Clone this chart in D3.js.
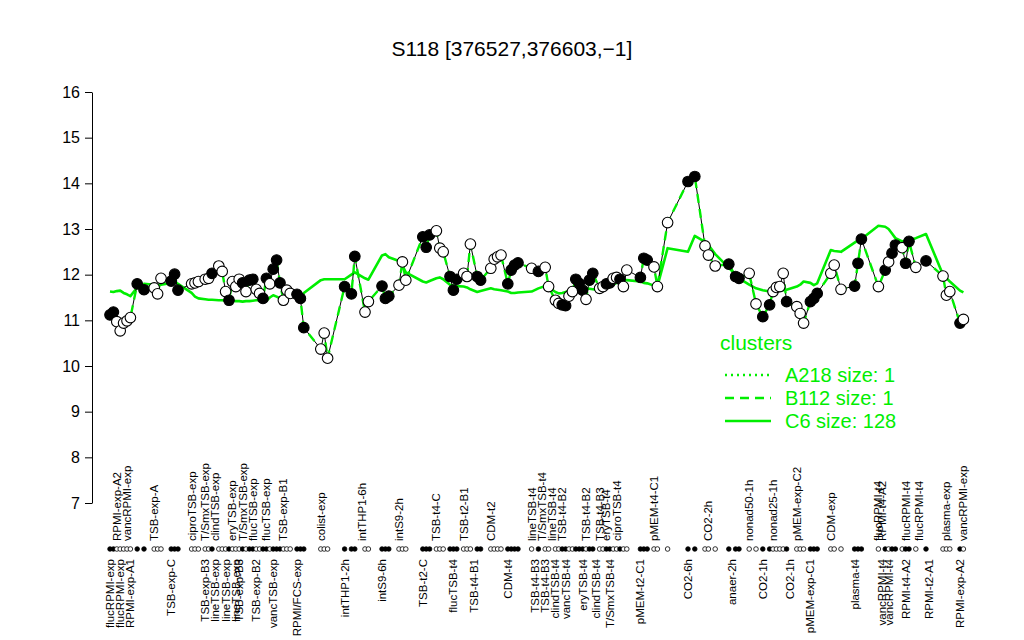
<!DOCTYPE html>
<html><head><meta charset="utf-8">
<script src="https://cdn.jsdelivr.net/npm/d3@7"></script>
<style>body{margin:0;background:#fff} text{font-family:"Liberation Sans",Arial,Helvetica,sans-serif}</style>
</head><body><svg id="c" width="1024" height="640"></svg>
<script>
// sample slot (order position along x), expression, fill (1 = black), C6 cluster mean
const slots = [0,1,2,3,4,5,6,8,10,13,14,15,18,19,20,24,25,26,28,29,30,32,33,34,35,36,37,38,39,40,41,42,43,44,45,46,47,48,49,50,51,52,53,55,56,57,62,63,64,69,71,72,75,76,80,81,82,85,86,87,92,93,94,96,97,98,100,101,102,104,105,106,108,109,112,113,114,115,117,118,119,120,124,126,128,129,131,132,133,134,135,136,137,138,139,140,141,142,144,145,146,147,148,149,150,151,152,156,157,158,160,161,164,170,172,175,176,178,182,184,185,188,190,192,194,195,196,197,198,199,202,203,204,206,207,208,212,213,215,219,220,221,226,228,229,230,231,233,234,235,237,240,245,246,247,250,251];
const expr = [11.12,11.18,10.97,10.77,10.94,10.99,11.06,11.80,11.67,11.71,11.58,11.92,11.86,12.01,11.66,11.80,11.82,11.85,11.90,11.92,12.03,12.19,12.07,11.63,11.44,11.85,11.74,11.90,11.82,11.63,11.88,11.90,11.68,11.59,11.48,11.92,11.80,12.12,12.32,11.82,11.44,11.66,11.59,11.57,11.48,10.84,10.37,10.72,10.17,11.74,11.58,12.40,11.18,11.41,11.75,11.48,11.53,11.77,12.28,11.88,12.83,12.60,12.87,12.96,12.58,12.50,11.96,11.66,11.90,12.03,11.96,12.67,11.96,11.88,12.14,12.34,12.39,12.43,11.80,12.10,12.21,12.26,12.14,12.07,12.16,11.74,11.44,11.37,11.34,11.32,11.53,11.63,11.90,11.81,11.66,11.46,11.88,12.03,11.70,11.74,11.80,11.82,11.92,11.94,11.90,11.74,12.10,11.94,12.36,12.32,12.17,11.74,13.14,14.04,14.15,12.63,12.43,12.19,12.23,11.96,11.92,12.03,11.36,11.08,11.34,11.63,11.72,11.74,12.03,11.41,11.30,11.15,10.94,11.41,11.48,11.59,12.03,12.21,11.68,11.75,12.25,12.78,11.74,12.10,12.28,12.47,12.65,12.59,12.25,12.73,12.16,12.30,11.97,11.55,11.63,10.94,11.02];
const fills = [1,1,0,0,0,0,0,1,1,0,0,0,1,1,1,0,0,0,0,0,1,0,0,0,1,0,0,0,1,0,1,1,0,0,1,1,0,1,1,1,0,0,0,1,1,1,0,0,0,1,1,1,0,0,1,1,1,0,0,0,1,1,1,0,0,0,1,1,1,0,0,0,1,1,0,0,0,0,1,1,1,1,0,1,0,0,0,0,1,1,0,0,1,1,1,0,1,1,0,0,1,1,0,0,1,0,0,1,1,1,0,0,0,1,1,0,0,0,1,1,1,0,0,1,1,0,0,0,0,1,0,0,0,1,1,1,0,0,0,1,1,1,0,1,0,1,1,0,1,1,0,1,0,0,0,1,0];
const c6 = [11.63,11.62,11.64,11.65,11.60,11.57,11.53,11.72,11.80,11.78,11.76,11.78,11.82,11.85,11.80,11.60,11.52,11.48,11.46,11.45,11.45,11.44,11.44,11.43,11.43,11.43,11.42,11.42,11.41,11.42,11.42,11.43,11.44,11.44,11.43,11.43,11.50,11.55,11.52,11.48,11.50,11.52,11.53,11.50,11.48,11.60,11.88,11.90,11.90,11.90,12.00,12.05,11.92,11.89,12.42,12.45,12.38,12.30,12.20,12.05,11.85,11.83,11.86,11.92,11.94,11.90,11.78,11.76,11.75,11.74,11.72,11.68,11.62,11.64,11.70,11.68,11.67,11.66,11.63,11.60,11.60,11.61,11.63,11.70,11.75,11.72,11.62,11.59,11.60,11.62,11.65,11.66,11.68,11.69,11.70,11.70,11.69,11.68,11.66,11.68,11.72,11.73,11.78,11.82,11.86,11.88,11.88,11.85,11.82,11.81,11.76,11.74,12.58,12.50,12.85,12.72,12.65,12.45,12.15,12.00,11.92,11.78,11.70,11.66,11.63,11.63,11.64,11.65,11.66,11.67,11.74,11.78,11.85,11.82,11.77,11.81,12.54,12.52,12.50,12.70,12.75,12.78,13.07,13.05,13.00,12.90,12.80,12.73,12.74,12.76,12.80,12.89,12.00,11.93,11.85,11.65,11.61];

const yTicks = [7,8,9,10,11,12,13,14,15,16];
const bottomNames = ["flucRPMI-exp","flucRPMI-exp","RPMI-exp-A1","TSB-exp-C","TSB-exp-B3","lineTSB-exp","lineTSB-exp","lineTSB-exp","TSB-exp-B3","TSB-exp-B2","vancTSB-exp","RPMI/FCS-exp","intTHP1-2h","intS9-6h","TSB-t2-C","flucTSB-t4","TSB-t4-B1","CDM-t4","TSB-t4-B3","TSB-t4-B3","clindTSB-t4","vancTSB-t4","eryTSB-t4","clindTSB-t4","T/SmxTSB-t4","pMEM-t2-C1","CO2-6h","anaer-2h","CO2-1h","CO2-1h","pMEM-exp-C1","plasma-t4","vancRPMI-t4","vancRPMI-t4","RPMI-t4-A2","RPMI-t2-A1","RPMI-exp-A2"];
const bottomSlots = [0,3,6,18,28,31,34,37,38,43,48,55,69,80,92,101,107,117,125,128,131,134,139,143,147,156,170,183,192,200,206,219,227,229,234,241,250];
const topNames = ["RPMI-exp-A2","vancRPMI-exp","TSB-exp-A","ciproTSB-exp","T/SmxTSB-exp","clindTSB-exp","eryTSB-exp","T/SmxTSB-exp","flucTSB-exp","flucTSB-exp","TSB-exp-B1","colist-exp","intTHP1-6h","intS9-2h","TSB-t4-C","TSB-t2-B1","CDM-t2","lineTSB-t4","T/SmxTSB-t4","lineTSB-t4","TSB-t4-B2","TSB-t4-B2","TSB-t4-B3","eryTSB-t4","ciproTSB-t4","pMEM-t4-C1","CO2-2h","nonad50-1h","nonad25-1h","pMEM-exp-C2","CDM-exp","flucRPMI-t4","RPMI-t4-A2","flucRPMI-t4","flucRPMI-t4","plasma-exp","vancRPMI-exp"];
const topSlots = [2,5,13,24,28,31,36,39,42,46,51,62,74,85,96,104,112,124,127,130,133,140,144,146,149,160,176,188,195,202,212,226,227,234,238,246,251];
const legendNames = ["A218 size: 1","B112 size: 1","C6 size: 128"];
const legendDash = ["2,4","9,6",null];

const GREEN = "#00ee00";
const data = slots.map((s,i)=>({s, v:expr[i], f:fills[i], c:c6[i]}));
const svg = d3.select('#c');
const x = d3.scaleLinear().domain([0,251]).range([110,963.4]);
const y = d3.scaleLinear().domain([7,16]).range([503,92]);

// title
svg.append('text').attr('x',512).attr('y',56).attr('text-anchor','middle')
  .style('font-size','21px').text('S118 [376527,376603,\u22121]');

// y axis
const ya = svg.append('g').attr('transform','translate(92,0)')
  .call(d3.axisLeft(y).tickValues(yTicks).tickSize(7).tickSizeOuter(0).tickPadding(5).tickFormat(d3.format('d')));
ya.selectAll('text').style('font-size','16px').style('font-family','"Liberation Sans",Arial,sans-serif');
ya.selectAll('path,line').attr('stroke','#000');

// C6 cluster mean line
svg.append('path').datum(data)
  .attr('d', d3.line().x(d=>x(d.s)).y(d=>y(d.c)))
  .attr('fill','none').attr('stroke',GREEN).attr('stroke-width',2.6).attr('stroke-linejoin','round');

// data line: black thin with green dashed overlay
const dl = d3.line().x(d=>x(d.s)).y(d=>y(d.v));
svg.append('path').datum(data).attr('d',dl).attr('fill','none').attr('stroke','#000').attr('stroke-width',1);
svg.append('path').datum(data).attr('d',dl).attr('fill','none').attr('stroke',GREEN)
  .attr('stroke-width',2.4).attr('stroke-dasharray','9,6');

// points
svg.append('g').selectAll('circle').data(data).join('circle')
  .attr('cx',d=>x(d.s)).attr('cy',d=>y(d.v)).attr('r',5.3)
  .attr('fill',d=>d.f?'#000':'#fff').attr('stroke','#000').attr('stroke-width',1.1);

// rug
svg.append('g').selectAll('circle').data(data).join('circle')
  .attr('cx',d=>x(d.s)).attr('cy',549).attr('r',2.3)
  .attr('fill',d=>d.f?'#000':'#fff').attr('stroke','#000').attr('stroke-width',0.8);

// x labels
const lab = svg.append('g').style('font-size','11.5px');
topNames.forEach((n,i)=>{
  lab.append('text').attr('transform',`translate(${x(topSlots[i])},541) rotate(-90)`)
    .attr('dy','0.35em').attr('text-anchor','start').text(n);
});
bottomNames.forEach((n,i)=>{
  lab.append('text').attr('transform',`translate(${x(bottomSlots[i])},559) rotate(-90)`)
    .attr('dy','0.35em').attr('text-anchor','end').text(n);
});

// legend
const lg = svg.append('g');
lg.append('text').attr('x',720).attr('y',350).style('font-size','21px').attr('fill',GREEN).text('clusters');
legendNames.forEach((n,i)=>{
  const yy = 375 + i*23;
  const ln = lg.append('line').attr('x1',725).attr('x2',771).attr('y1',yy).attr('y2',yy)
    .attr('stroke',GREEN).attr('stroke-width',2.4);
  if (legendDash[i]) ln.attr('stroke-dasharray',legendDash[i]);
  lg.append('text').attr('x',785).attr('y',yy).attr('dy','0.35em').style('font-size','20px')
    .attr('fill',GREEN).text(n);
});
</script></body></html>
